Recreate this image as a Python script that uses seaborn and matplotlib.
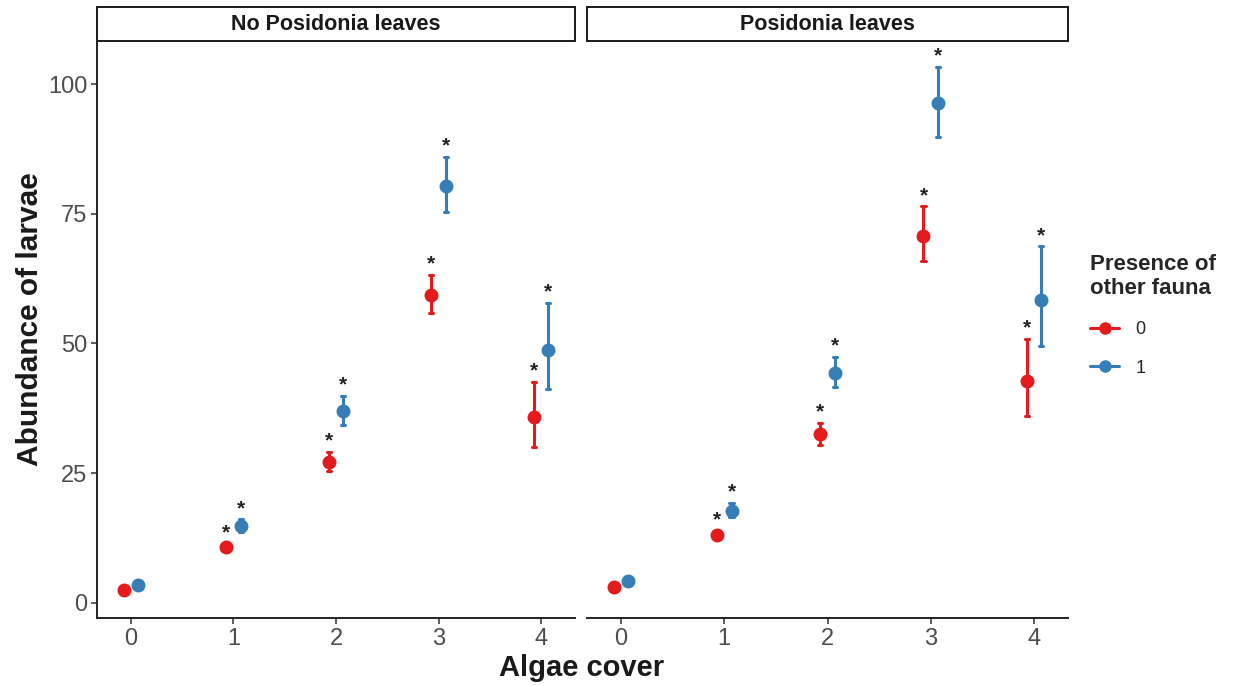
import pandas as pd
import numpy as np
import matplotlib
matplotlib.use('Agg')
import matplotlib.pyplot as plt
import seaborn as sns
from matplotlib.lines import Line2D
from matplotlib.patches import Rectangle

# ============================================================
# DATA (mean and interval per group)
# ============================================================

algae = [0, 1, 2, 3, 4]
panels = ['No Posidonia leaves', 'Posidonia leaves']
fauna = ['0', '1']
colors = ['#E41A1C', '#377EB8']

# No Posidonia leaves
nop_f0_mean = [2.5, 10.8, 27.2, 59.3, 35.8]
nop_f0_lo = [2.0, 10.2, 25.4, 55.9, 30.1]
nop_f0_hi = [3.0, 11.4, 29.1, 63.2, 42.6]
nop_f1_mean = [3.5, 14.8, 37.0, 80.4, 48.7]
nop_f1_lo = [3.0, 13.7, 34.3, 75.4, 41.2]
nop_f1_hi = [4.0, 16.1, 39.9, 86.0, 57.8]

# Posidonia leaves
pos_f0_mean = [3.0, 13.1, 32.5, 70.8, 42.8]
pos_f0_lo = [2.5, 12.3, 30.4, 65.9, 36.1]
pos_f0_hi = [3.5, 13.9, 34.7, 76.4, 50.9]
pos_f1_mean = [4.2, 17.8, 44.3, 96.3, 58.4]
pos_f1_lo = [3.4, 16.6, 41.6, 89.7, 49.5]
pos_f1_hi = [5.0, 19.3, 47.4, 103.3, 68.7]

# significance marks (True = asterisk above the interval)
signif = [False, True, True, True, True]

series = {
    (panels[0], '0'): (nop_f0_mean, nop_f0_lo, nop_f0_hi),
    (panels[0], '1'): (nop_f1_mean, nop_f1_lo, nop_f1_hi),
    (panels[1], '0'): (pos_f0_mean, pos_f0_lo, pos_f0_hi),
    (panels[1], '1'): (pos_f1_mean, pos_f1_lo, pos_f1_hi),
}

# long table: lo / mean / hi rows -> median = mean, 100% interval = [lo, hi]
rows = []
for (panel, f), (mean, lo, hi) in series.items():
    for i, a in enumerate(algae):
        for v in (lo[i], mean[i], hi[i]):
            rows.append({'panel': panel, 'fauna': f, 'algae': a, 'val': v})
df = pd.DataFrame(rows)

# ============================================================
# STYLE
# ============================================================

sns.set_theme(style='white')
plt.rcParams['font.family'] = ['Liberation Sans', 'DejaVu Sans']

W, H = 1238, 686
fig = plt.figure(figsize=(W / 100, H / 100), dpi=100)
fig.patch.set_facecolor('white')

boxes = [(97, 478), (587, 481)]
top_px, bot_px = 42, 618
dodge = 0.14

for k, panel in enumerate(panels):
    left, width = boxes[k]
    ax = fig.add_axes([left / W, 1 - bot_px / H, width / W, (bot_px - top_px) / H])
    sub = df[df['panel'] == panel]
    sns.pointplot(data=sub, x='algae', y='val', hue='fauna',
                  order=algae, hue_order=fauna, palette=colors,
                  estimator='median', errorbar=('pi', 100),
                  dodge=dodge, linestyle='none', markers='o',
                  markersize=8, capsize=0.04,
                  err_kws={'linewidth': 2.2}, legend=False, ax=ax)

    # asterisks above intervals
    for j, f in enumerate(fauna):
        off = -dodge / 2 + j * dodge
        hi = series[(panel, f)][2]
        for i in range(len(algae)):
            if signif[i]:
                ax.annotate('*', (i + off, hi[i]), xytext=(0, 1),
                            textcoords='offset points', ha='center',
                            va='bottom', fontsize=15, fontweight='bold',
                            color='#222222')

    ax.set_xlim(-0.33, 4.33)
    ax.set_ylim(-2.9, 108.1)
    ax.set_xlabel('')
    ax.set_ylabel('')
    ax.set_yticks([0, 25, 50, 75, 100])
    for s in ['top', 'right']:
        ax.spines[s].set_visible(False)
    for s in ['left', 'bottom']:
        ax.spines[s].set_color('#222222')
        ax.spines[s].set_linewidth(1.4)
    ax.tick_params(axis='both', length=4, width=1.1, color='#333333',
                   labelcolor='#4D4D4D', labelsize=17, pad=3,
                   bottom=True, left=True)
    if k == 1:
        ax.spines['left'].set_visible(False)
        ax.tick_params(axis='y', left=False, labelleft=False)

    # facet strip
    strip_h = 33 / (bot_px - top_px)
    ax.add_patch(Rectangle((0, 1 + 1.5 / (bot_px - top_px)), 1, strip_h,
                           transform=ax.transAxes, facecolor='white',
                           edgecolor='#1a1a1a', linewidth=1.4, clip_on=False))
    ax.text(0.5, 1 + (1.5 + strip_h * (bot_px - top_px) / 2) / (bot_px - top_px),
            panel, transform=ax.transAxes, ha='center', va='center',
            fontsize=15.5, fontweight='bold', color='#1a1a1a')

# axis titles
fig.text(582 / W, 1 - 668 / H, 'Algae cover', ha='center', va='center',
         fontsize=21, fontweight='bold', color='#1a1a1a')
fig.text(30 / W, 1 - 319 / H, 'Abundance of larvae', ha='center', va='center',
         rotation=90, fontsize=21.5, fontweight='bold', color='#1a1a1a')

# legend
handles = [Line2D([0], [0], color=c, marker='o', markersize=8, linewidth=2.2)
           for c in colors]
leg = fig.legend(handles, fauna, title='Presence of\nother fauna',
                 loc='upper left', bbox_to_anchor=(1074 / W, 1 - 238 / H),
                 frameon=False, fontsize=13, handlelength=1.6,
                 labelspacing=1.2, handletextpad=0.9, alignment='left',
                 title_fontproperties={'weight': 'bold', 'size': 16})

plt.savefig('out.png', dpi=100)
print("saved out.png")
